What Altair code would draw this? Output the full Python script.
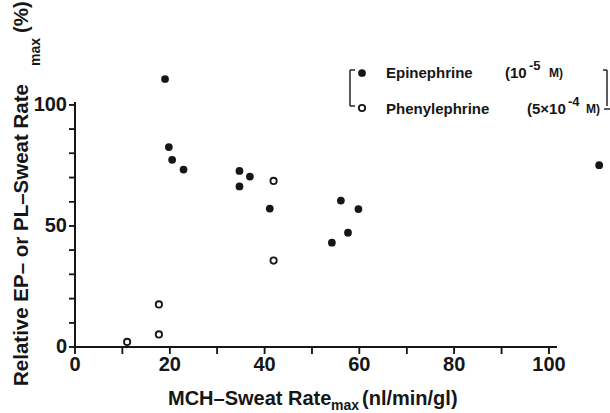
import altair as alt
import pandas as pd

# Epinephrine (10^-5 M): MCH sweat rate max vs relative EP sweat rate max
ep_x = [19.0, 19.8, 20.5, 22.9, 34.7, 34.7, 36.9, 41.1, 54.2, 56.1, 57.6, 59.8, 110.6]
ep_y = [110.7, 82.6, 77.3, 73.3, 72.7, 66.3, 70.4, 57.2, 43.1, 60.5, 47.2, 57.0, 75.1]

# Phenylephrine (5x10^-4 M)
pl_x = [11.0, 17.7, 17.7, 41.9, 41.9]
pl_y = [2.1, 5.2, 17.6, 68.6, 35.7]

# tick positions and the ones that carry a label
x_ticks = list(range(0, 101, 10))
y_ticks = list(range(0, 101, 10))
x_labels = [0, 20, 40, 60, 80, 100]
y_labels = [0, 50, 100]

X_MAX, Y_MAX = 101.7, 101.2
FONT = "Liberation Sans"
INK = "#161616"
W, H = 482, 245

ep = pd.DataFrame({"mch": ep_x, "rel": ep_y})
pl = pd.DataFrame({"mch": pl_x, "rel": pl_y})

x_scale = alt.Scale(domain=[0, X_MAX], nice=False, zero=False)
y_scale = alt.Scale(domain=[0, Y_MAX], nice=False, zero=False)

filled = alt.Chart(ep).mark_circle(size=60, color=INK, opacity=1).encode(
    x=alt.X("mch:Q", scale=x_scale, axis=None),
    y=alt.Y("rel:Q", scale=y_scale, axis=None),
)
hollow = alt.Chart(pl).mark_point(
    shape="circle", size=40, filled=False, color=INK, strokeWidth=1.8, opacity=1
).encode(x=alt.X("mch:Q", scale=x_scale, axis=None),
         y=alt.Y("rel:Q", scale=y_scale, axis=None))

# hand-built axes: lines, tick marks and tick labels through the same scales
one = alt.Data(values=[{}])
x_seg = pd.DataFrame({"a": x_ticks, "b": x_ticks[1:] + [X_MAX]})
y_seg = pd.DataFrame({"a": y_ticks, "b": y_ticks[1:] + [Y_MAX]})
xt = pd.DataFrame({"t": x_ticks})
yt = pd.DataFrame({"t": y_ticks})
xl = pd.DataFrame({"t": x_labels})
yl = pd.DataFrame({"t": y_labels})

x_line = alt.Chart(x_seg).mark_rule(color=INK, strokeWidth=1.8).encode(
    x=alt.X("a:Q", scale=x_scale, axis=None), x2="b:Q", y=alt.value(H)
)
y_line = alt.Chart(y_seg).mark_rule(color=INK, strokeWidth=1.8).encode(
    y=alt.Y("a:Q", scale=y_scale, axis=None), y2="b:Q", x=alt.value(0)
)
x_tick_marks = alt.Chart(xt).mark_rule(color=INK, strokeWidth=1.5).encode(
    x=alt.X("t:Q", scale=x_scale, axis=None), y=alt.value(H), y2=alt.value(H + 7)
)
y_tick_marks = alt.Chart(yt).mark_rule(color=INK, strokeWidth=1.5).encode(
    y=alt.Y("t:Q", scale=y_scale, axis=None), x=alt.value(-6), x2=alt.value(0.5)
)

# the same axis strokes as path symbols (unit-box paths scaled by the symbol size)
x_line_sym = alt.Chart(one).mark_point(
    shape="M-1,0L1,0", size=W * W, filled=False, color=INK, strokeWidth=1.8, opacity=1
).encode(x=alt.value(W / 2), y=alt.value(H))
y_line_sym = alt.Chart(one).mark_point(
    shape="M0,-1L0,1", size=H * H, filled=False, color=INK, strokeWidth=1.8, opacity=1
).encode(x=alt.value(0), y=alt.value(H / 2))
x_tick_sym = alt.Chart(xt).mark_point(
    shape="M0,0L0,1", size=14 * 14, filled=False, color=INK, strokeWidth=1.5, opacity=1
).encode(x=alt.X("t:Q", scale=x_scale, axis=None), y=alt.value(H))
y_tick_sym = alt.Chart(yt).mark_point(
    shape="M-1,0L0,0", size=12 * 12, filled=False, color=INK, strokeWidth=1.5, opacity=1
).encode(y=alt.Y("t:Q", scale=y_scale, axis=None), x=alt.value(0))

x_tick_text = alt.Chart(xl).mark_text(
    font=FONT, fontSize=20, fontWeight="bold", color=INK, baseline="top", align="center"
).encode(x=alt.X("t:Q", scale=x_scale, axis=None), y=alt.value(H + 8), text="t:Q")
y_tick_text = alt.Chart(yl).mark_text(
    font=FONT, fontSize=20, fontWeight="bold", color=INK, baseline="middle", align="right"
).encode(y=alt.Y("t:Q", scale=y_scale, axis=None), x=alt.value(-8), text="t:Q")

# plot area origin inside the page
OX, OY = 75, 102


def label(text, x, y, size=20, weight="bold", angle=0, baseline="alphabetic", align="left"):
    return alt.Chart(one).mark_text(
        text=text, font=FONT, fontSize=size, fontWeight=weight, angle=angle,
        baseline=baseline, align=align, color=INK,
    ).encode(x=alt.value(x - OX), y=alt.value(y - OY))


def rule(x1, y1, x2, y2, width=1.4):
    return alt.Chart(one).mark_rule(color=INK, strokeWidth=width).encode(
        x=alt.value(x1 - OX), x2=alt.value(x2 - OX),
        y=alt.value(y1 - OY), y2=alt.value(y2 - OY),
    )


def dot(x, y, solid):
    if solid:
        m = alt.Chart(one).mark_circle(size=60, color=INK, opacity=1)
    else:
        m = alt.Chart(one).mark_point(shape="circle", size=40, filled=False,
                                      color=INK, strokeWidth=1.8, opacity=1)
    return m.encode(x=alt.value(x - OX), y=alt.value(y - OY))


# axis titles with subscripted "max"
x_title = [
    label("MCH\u2013Sweat Rate", 168, 405),
    label("max", 331, 410, size=14),
    label("(nl/min/gl)", 362, 405),
]
y_title = [
    label("Relative EP\u2013 or PL\u2013Sweat Rate", 28, 386, size=20.5, angle=270),
    label("max", 40, 66, size=14, angle=270),
    label("(%)", 28, 33, size=20.5, angle=270),
]

# bracketed key in the upper right
key = [
    rule(350, 70, 350, 106),
    rule(350, 70, 355, 70),
    rule(350, 106, 355, 106),
    dot(362, 73, True),
    dot(362, 108, False),
    label("Epinephrine", 386, 73, size=15, baseline="middle"),
    label("(10", 505, 73, size=15, baseline="middle"),
    label("-5", 529, 66, size=13, baseline="middle"),
    label("M)", 549, 73, size=12, baseline="middle"),
    label("Phenylephrine", 386, 109, size=15, baseline="middle"),
    label("(5\u00d710", 527, 109, size=15, baseline="middle"),
    label("-4", 568, 102, size=13, baseline="middle"),
    label("M)", 586, 109, size=12, baseline="middle"),
    rule(607, 70, 607, 106),
    rule(603, 70, 607, 70),
    rule(604, 109, 610, 109),
]

chart = alt.layer(
    x_tick_text, y_tick_text, filled, hollow, *x_title, *y_title, *key,
    x_line, y_line, x_tick_marks, y_tick_marks,
    x_line_sym, y_line_sym, x_tick_sym, y_tick_sym,
).properties(
    width=W, height=H,
    autosize=alt.AutoSizeParams(type="none"),
    padding={"left": OX, "top": OY, "right": 610 - OX - W, "bottom": 413 - OY - H},
    background="white",
).configure_view(strokeWidth=0)

chart.save("out.html", embed_options={"renderer": "svg", "actions": False})
